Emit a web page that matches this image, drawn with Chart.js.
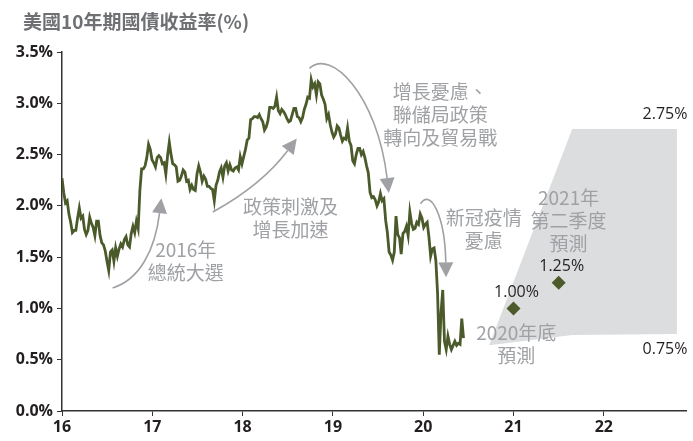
<!DOCTYPE html>
<html>
<head>
<meta charset="utf-8">
<script src="https://cdn.jsdelivr.net/npm/chart.js@4.4.1/dist/chart.umd.min.js"></script>
<style>
  html, body { margin: 0; padding: 0; background: #fff; }
  #wrap { width: 693px; height: 441px; }
</style>
</head>
<body>
<div id="wrap"><canvas id="yieldChart" width="693" height="441"></canvas></div>
<script>
// ===== DATA (weekly closes) =====
const yields2016 = [2.27, 2.13, 2.03, 2.05, 1.92, 1.84, 1.74, 1.76, 1.76, 1.88, 1.98, 1.88, 1.90, 1.77, 1.72, 1.76, 1.89, 1.83, 1.79, 1.71, 1.85, 1.85, 1.71, 1.64, 1.62, 1.56, 1.46, 1.37, 1.55, 1.57, 1.46, 1.59, 1.51, 1.58, 1.63, 1.60, 1.67, 1.70, 1.62, 1.60, 1.73, 1.80, 1.74, 1.85, 1.78, 2.15, 2.36, 2.36, 2.39, 2.47, 2.60, 2.55, 2.45];
const yields2017 = [2.42, 2.38, 2.47, 2.49, 2.47, 2.41, 2.42, 2.31, 2.49, 2.62, 2.50, 2.41, 2.40, 2.38, 2.24, 2.25, 2.29, 2.35, 2.33, 2.24, 2.25, 2.16, 2.20, 2.16, 2.15, 2.31, 2.39, 2.33, 2.24, 2.29, 2.26, 2.19, 2.19, 2.17, 2.16, 2.05, 2.20, 2.25, 2.33, 2.37, 2.28, 2.39, 2.42, 2.34, 2.40, 2.35, 2.34, 2.37, 2.38, 2.35, 2.48, 2.41];
const yields2018 = [2.48, 2.55, 2.64, 2.66, 2.84, 2.85, 2.87, 2.87, 2.86, 2.89, 2.85, 2.82, 2.74, 2.77, 2.83, 2.96, 2.96, 2.95, 2.97, 3.06, 2.93, 2.90, 2.94, 2.92, 2.89, 2.85, 2.82, 2.83, 2.89, 2.95, 2.95, 2.87, 2.86, 2.82, 2.86, 2.94, 2.99, 3.06, 3.05, 3.23, 3.16, 3.19, 3.08, 3.21, 3.19, 3.08, 3.04, 2.99, 2.85, 2.89, 2.79, 2.72];
const yields2019 = [2.67, 2.70, 2.78, 2.76, 2.69, 2.63, 2.66, 2.65, 2.76, 2.63, 2.59, 2.44, 2.41, 2.50, 2.56, 2.56, 2.50, 2.53, 2.47, 2.39, 2.32, 2.13, 2.08, 2.09, 2.06, 2.00, 2.04, 2.12, 2.05, 2.07, 1.86, 1.74, 1.55, 1.52, 1.47, 1.55, 1.90, 1.72, 1.69, 1.53, 1.73, 1.75, 1.80, 1.71, 1.94, 1.83, 1.77, 1.78, 1.84, 1.82, 1.92, 1.88];
const yields2020 = [1.79, 1.82, 1.84, 1.70, 1.51, 1.58, 1.59, 1.47, 1.15, 0.55, 0.96, 1.18, 0.68, 0.60, 0.73, 0.65, 0.60, 0.64, 0.68, 0.64, 0.66, 0.65, 0.90, 0.71];

const forecastYears = [21, 21.5];
const forecastValues = [1.00, 1.25];

const rangeYears = [20.73, 21.65, 22.81];
const rangeHigh = [0.64, 2.75, 2.75];
const rangeLow = [0.64, 0.74, 0.75];

const xTicks = [16, 17, 18, 19, 20, 21, 22];
const yTicks = [0, 0.5, 1.0, 1.5, 2.0, 2.5, 3.0, 3.5];

const titleText = '美國10年期國債收益率(%)';

// annotation text blocks: lines + centre of first line (data coords)
const notes = [
    { lines: ['2016年', '總統大選'], x: 17.37, y: 1.57 },
    { lines: ['政策刺激及', '增長加速'], x: 18.53, y: 1.99 },
    { lines: ['增長憂慮、', '聯儲局政策', '轉向及貿易戰'], x: 20.19, y: 3.11 },
    { lines: ['新冠疫情', '憂慮'], x: 20.67, y: 1.88 },
    { lines: ['2021年', '第二季度', '預測'], x: 21.61, y: 2.08 },
    { lines: ['2020年底', '預測'], x: 21.03, y: 0.76 }
];

// curved arrows: cubic bezier control points (data coords)
const arrows = [
    [[16.56, 1.20], [16.86, 1.28], [17.03, 1.57], [17.08, 1.93]],
    [[17.67, 1.94], [18.02, 2.11], [18.32, 2.33], [18.50, 2.54]],
    [[18.74, 3.34], [18.98, 3.54], [19.49, 3.08], [19.60, 2.27]],
    [[19.97, 2.02], [20.08, 2.17], [20.24, 1.91], [20.25, 1.45]]
];

// ===== BUILD SERIES =====
const weekly = [].concat(yields2016, yields2017, yields2018, yields2019, yields2020);
const yieldPoints = weekly.map((v, i) => ({ x: 16 + i * 7 / 365.25, y: v }));
const forecastPoints = forecastYears.map((x, i) => ({ x: x, y: forecastValues[i] }));
const highPoints = rangeYears.map((x, i) => ({ x: x, y: rangeHigh[i] }));
const lowPoints = rangeYears.map((x, i) => ({ x: x, y: rangeLow[i] }));

const olive = '#4b5a2a';
const noteGray = '#9fa1a4';

// ===== ANNOTATION PLUGIN =====
const notesPlugin = {
    id: 'notes',
    afterDatasetsDraw(chart) {
        const { ctx, scales: { x, y } } = chart;
        ctx.save();

        // title
        ctx.font = 'bold 19px "Noto Sans CJK TC", "Open Sans"';
        ctx.fillStyle = '#6f7073';
        ctx.textAlign = 'left';
        ctx.textBaseline = 'middle';
        ctx.fillText(titleText, 23, 22);

        // arrows
        ctx.strokeStyle = noteGray;
        ctx.fillStyle = noteGray;
        ctx.lineWidth = 1.6;
        arrows.forEach(a => {
            const p = a.map(([vx, vy]) => [x.getPixelForValue(vx), y.getPixelForValue(vy)]);
            ctx.beginPath();
            ctx.moveTo(p[0][0], p[0][1]);
            ctx.bezierCurveTo(p[1][0], p[1][1], p[2][0], p[2][1], p[3][0], p[3][1]);
            ctx.stroke();
            const dx = p[3][0] - p[2][0], dy = p[3][1] - p[2][1];
            const len = Math.hypot(dx, dy);
            const ux = dx / len, uy = dy / len;
            ctx.beginPath();
            ctx.moveTo(p[3][0] + ux * 15, p[3][1] + uy * 15);
            ctx.lineTo(p[3][0] - uy * 7.5, p[3][1] + ux * 7.5);
            ctx.lineTo(p[3][0] + uy * 7.5, p[3][1] - ux * 7.5);
            ctx.closePath();
            ctx.fill();
        });

        // annotation text
        ctx.font = '19px "Noto Sans CJK TC"';
        ctx.fillStyle = noteGray;
        ctx.textAlign = 'center';
        notes.forEach(n => {
            const px = x.getPixelForValue(n.x);
            const py = y.getPixelForValue(n.y);
            n.lines.forEach((t, i) => ctx.fillText(t, px, py + i * 23));
        });

        // value labels
        ctx.font = '16px "Open Sans"';
        ctx.fillStyle = '#231f20';
        forecastPoints.forEach(p => {
            ctx.fillText(p.y.toFixed(2) + '%', x.getPixelForValue(p.x) + 3, y.getPixelForValue(p.y) - 16);
        });
        const lastX = rangeYears[rangeYears.length - 1];
        const hi = rangeHigh[rangeHigh.length - 1];
        const lo = rangeLow[rangeLow.length - 1];
        ctx.fillText(hi.toFixed(2) + '%', x.getPixelForValue(lastX) - 12, y.getPixelForValue(hi) - 14);
        ctx.fillText(lo.toFixed(2) + '%', x.getPixelForValue(lastX) - 12, y.getPixelForValue(lo) + 15);

        ctx.restore();
    }
};

// ===== CHART =====
const tickFont = { family: '"Open Sans"', size: 16, weight: 'bold' };

new Chart(document.getElementById('yieldChart'), {
    type: 'line',
    data: {
        datasets: [
            {
                data: forecastPoints,
                order: 0,
                showLine: false,
                pointStyle: 'rectRot',
                pointRadius: 7,
                backgroundColor: olive,
                borderColor: olive,
                borderWidth: 0
            },
            {
                data: yieldPoints,
                order: 1,
                borderColor: olive,
                borderWidth: 2.8,
                pointRadius: 0,
                tension: 0,
                fill: false
            },
            {
                data: highPoints,
                order: 2,
                borderWidth: 0,
                pointRadius: 0,
                backgroundColor: '#dcddde',
                fill: '+1'
            },
            {
                data: lowPoints,
                order: 3,
                borderWidth: 0,
                pointRadius: 0,
                fill: false
            }
        ]
    },
    options: {
        responsive: false,
        animation: false,
        layout: { padding: { top: 52, right: 0, left: 0, bottom: 0 } },
        plugins: {
            legend: { display: false },
            tooltip: { enabled: false }
        },
        scales: {
            x: {
                type: 'linear',
                min: 16,
                max: 22.91,
                afterBuildTicks: s => { s.ticks = xTicks.map(v => ({ value: v })); },
                afterFit: s => { s.height = 30; },
                ticks: {
                    color: '#231f20',
                    font: tickFont,
                    padding: 2,
                    maxRotation: 0,
                    callback: v => String(v)
                },
                grid: { drawOnChartArea: false, drawTicks: true, tickLength: 5, color: '#333' },
                border: { display: true, color: '#333', width: 1.5 }
            },
            y: {
                min: 0,
                max: 3.5,
                afterBuildTicks: s => { s.ticks = yTicks.map(v => ({ value: v })); },
                afterFit: s => { s.width = 62; },
                ticks: {
                    color: '#231f20',
                    font: tickFont,
                    padding: 4,
                    callback: v => v.toFixed(1) + '%'
                },
                grid: { drawOnChartArea: false, drawTicks: true, tickLength: 5, color: '#333' },
                border: { display: true, color: '#333', width: 1.5 }
            }
        }
    },
    plugins: [notesPlugin]
});
</script>
</body>
</html>
